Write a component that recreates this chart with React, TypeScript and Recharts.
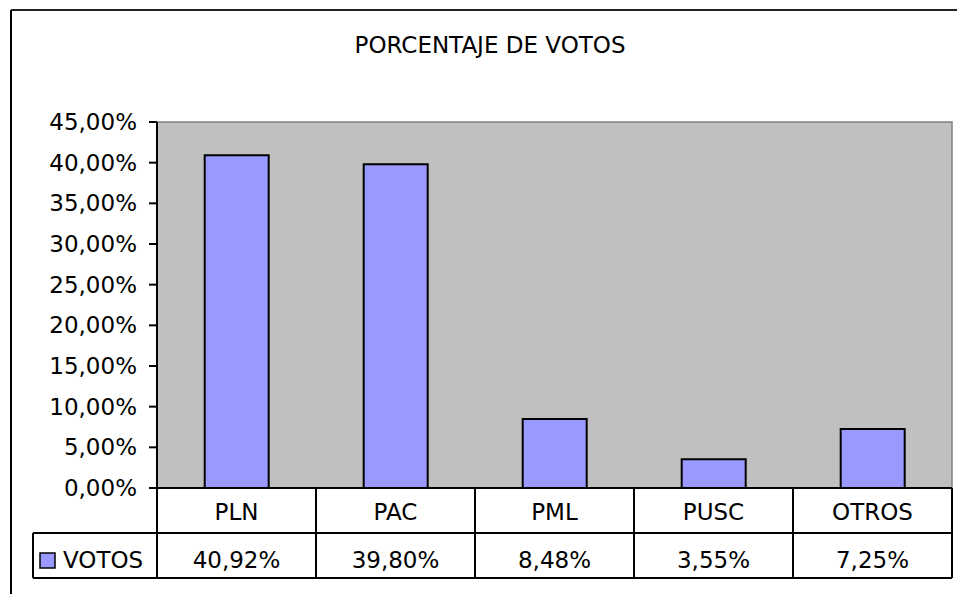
import React from "react";
import { BarChart, Bar, XAxis, YAxis, CartesianGrid, ReferenceArea } from "recharts";

const PARTIDOS = ["PLN", "PAC", "PML", "PUSC", "OTROS"];
const VOTOS = [40.92, 39.8, 8.48, 3.55, 7.25];
const Y_TICKS = [0, 5, 10, 15, 20, 25, 30, 35, 40, 45];
const SERIE = "VOTOS";
const TITULO = "PORCENTAJE DE VOTOS";

const data = PARTIDOS.map((partido, i) => ({ partido, votos: VOTOS[i] }));

const W = 957;
const H = 594;
const MARGIN = { top: 122, right: 5, bottom: 16, left: 57 };
const Y_AXIS_W = 100;
const X_AXIS_H = 90;
const PLOT_LEFT = MARGIN.left + Y_AXIS_W;
const PLOT_RIGHT = W - MARGIN.right;
const PLOT_BOTTOM = H - MARGIN.bottom - X_AXIS_H;
const ROW_H = 45;
const LEGEND_LEFT = 33;
const FONT = "'DejaVu Sans', Verdana, sans-serif";
const FONT_SIZE = 23;
const BAR_COLOR = "#9999FF";

const pct = (v: number) => v.toFixed(2).replace(".", ",") + "%";

// data table under the plot, one column per category tick
function TableTick(props: any) {
  const { x, payload } = props;
  const index = payload?.index ?? props.index ?? 0;
  const half = (PLOT_RIGHT - PLOT_LEFT) / PARTIDOS.length / 2;
  const top = PLOT_BOTTOM;
  const mid = top + ROW_H;
  const bot = top + 2 * ROW_H;
  const line = { stroke: "#000", strokeWidth: 2 };
  const txt = { fontFamily: FONT, fontSize: FONT_SIZE, fill: "#000", textAnchor: "middle" as const };
  return (
    <g>
      <line x1={x - half} y1={top} x2={x - half} y2={bot} {...line} />
      {index === PARTIDOS.length - 1 && (
        <line x1={x + half} y1={top} x2={x + half} y2={bot} {...line} />
      )}
      <text x={x} y={top + 32} {...txt}>
        {payload.value}
      </text>
      <text x={x} y={mid + 35} {...txt}>
        {pct(VOTOS[index])}
      </text>
      {index === 0 && (
        <g>
          <line x1={LEGEND_LEFT} y1={mid} x2={PLOT_RIGHT} y2={mid} {...line} />
          <line x1={LEGEND_LEFT} y1={bot} x2={PLOT_RIGHT} y2={bot} {...line} />
          <line x1={LEGEND_LEFT} y1={mid} x2={LEGEND_LEFT} y2={bot} {...line} />
          <rect x={40} y={mid + 20} width={15} height={15} fill={BAR_COLOR} stroke="#000" strokeWidth={1.5} />
          <text x={63} y={mid + 35} {...txt} textAnchor="start">
            {SERIE}
          </text>
        </g>
      )}
    </g>
  );
}

export default function App() {
  return (
    <div style={{ position: "absolute", left: 0, top: 0, width: W, height: H, background: "#fff" }}>
      <svg width={W} height={H} style={{ position: "absolute", left: 0, top: 0 }}>
        <line x1={11} y1={10} x2={W} y2={10} stroke="#222" strokeWidth={2} />
        <line x1={11} y1={10} x2={11} y2={H} stroke="#000" strokeWidth={2} />
        <text x={490} y={53} textAnchor="middle" fontFamily={FONT} fontSize={FONT_SIZE} fill="#000">
          {TITULO}
        </text>
      </svg>
      <div style={{ position: "absolute", left: 0, top: 0 }}>
        <BarChart width={W} height={H} data={data} margin={MARGIN} barCategoryGap="30%">
          <CartesianGrid fill="#C0C0C0" horizontal={false} vertical={false} />
          <ReferenceArea y1={0} y2={45} fill="none" stroke="#808080" strokeWidth={1.5} ifOverflow="visible" />
          <Bar dataKey="votos" fill={BAR_COLOR} stroke="#000" strokeWidth={2} isAnimationActive={false} />
          <YAxis
            width={Y_AXIS_W}
            domain={[0, 45]}
            ticks={Y_TICKS}
            interval={0}
            tickFormatter={pct}
            tickSize={8}
            tickMargin={12}
            axisLine={{ stroke: "#000", strokeWidth: 2 }}
            tickLine={{ stroke: "#000", strokeWidth: 2 }}
            tick={{ fill: "#000", fontSize: FONT_SIZE, fontFamily: FONT }}
          />
          <XAxis
            dataKey="partido"
            height={X_AXIS_H}
            interval={0}
            axisLine={{ stroke: "#000", strokeWidth: 2 }}
            tickLine={false}
            tick={TableTick}
          />
        </BarChart>
      </div>
    </div>
  );
}
